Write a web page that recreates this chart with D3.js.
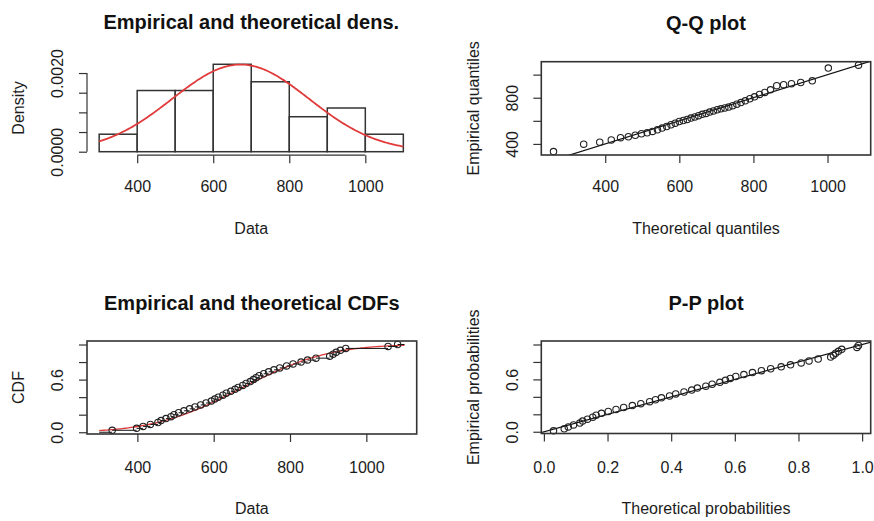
<!DOCTYPE html>
<html>
<head>
<meta charset="utf-8">
<script src="https://cdn.jsdelivr.net/npm/d3@7"></script>
<style>
  body { margin: 0; background: #fff; }
  svg text { font-family: "Liberation Sans", Arial, sans-serif; fill: #1c1c1c; }
</style>
</head>
<body>
<div id="chart"></div>
<script>
const dataValues = [334, 398,
  415, 434, 454, 462, 475, 488, 496,
  508, 522, 537, 551, 566, 580, 594,
  603, 612, 624, 633, 645, 656, 664, 676, 685, 696,
  704, 711, 719, 731, 744, 758, 773, 791,
  808, 829, 846, 868,
  904, 913, 921, 932, 946,
  1057, 1082];

// histogram breaks
const histBreaks = [300, 400, 500, 600, 700, 800, 900, 1000, 1100];

// fitted normal distribution
const fitMean = 672;
const fitSd = 180;

// ticks / labels (R drops the labels that would overlap)
const dataTicks = [400, 600, 800, 1000];
const dataTickLabels = ["400", "600", "800", "1000"];
const densTicks = [0, 0.0005, 0.001, 0.0015, 0.002];
const densTickLabels = ["0.0000", "", "", "", "0.0020"];
const qqTicksY = [400, 600, 800, 1000];
const qqTickLabelsY = ["400", "", "800", ""];
const probTicks = [0, 0.2, 0.4, 0.6, 0.8, 1];
const probTickLabelsY = ["0.0", "", "", "0.6", "", ""];
const probTickLabelsX = ["0.0", "0.2", "0.4", "0.6", "0.8", "1.0"];

const titles = ["Empirical and theoretical dens.", "Q-Q plot", "Empirical and theoretical CDFs", "P-P plot"];
const xLabels = ["Data", "Theoretical quantiles", "Data", "Theoretical probabilities"];
const yLabels = ["Density", "Empirical quantiles", "CDF", "Empirical probabilities"];

// plot regions
const W = 874, H = 521;
const panels = [
  {left: 87, right: 415.5, top: 60.8, bottom: 155.2, tickOff: 30.8, labOff: 72.8},
  {left: 541.3, right: 870.7, top: 61.7, bottom: 155, tickOff: 30.8, labOff: 72.8},
  {left: 87, right: 416.7, top: 341, bottom: 434, tickOff: 33.7, labOff: 74.5},
  {left: 541.3, right: 870.7, top: 341, bottom: 433.5, tickOff: 33.7, labOff: 74.5}
];
const red = "#e03a3a", ink = "#333";

// normal helpers
function dnorm(x) { const z = (x - fitMean) / fitSd; return Math.exp(-z * z / 2) / (fitSd * Math.sqrt(2 * Math.PI)); }
function pnormStd(z) {
  const t = 1 / (1 + 0.3275911 * Math.abs(z) / Math.SQRT2);
  const y = 1 - (((((1.061405429 * t - 1.453152027) * t) + 1.421413741) * t - 0.284496736) * t + 0.254829592) * t * Math.exp(-z * z / 2);
  return z >= 0 ? (1 + y) / 2 : (1 - y) / 2;
}
function pnorm(x) { return pnormStd((x - fitMean) / fitSd); }
function qnormStd(p) {
  const a = [-39.69683028665376, 220.9460984245205, -275.9285104469687, 138.3577518672690, -30.66479806614716, 2.506628277459239];
  const b = [-54.47609879822406, 161.5858368580409, -155.6989798598866, 66.80131188771972, -13.28068155288572];
  const c = [-0.007784894002430293, -0.3223964580411365, -2.400758277161838, -2.549732539343734, 4.374664141464968, 2.938163982698783];
  const d = [0.007784695709041462, 0.3224671290700398, 2.445134137142996, 3.754408661907416];
  const pl = 0.02425;
  let q, r;
  if (p < pl) {
    q = Math.sqrt(-2 * Math.log(p));
    return (((((c[0]*q+c[1])*q+c[2])*q+c[3])*q+c[4])*q+c[5]) / ((((d[0]*q+d[1])*q+d[2])*q+d[3])*q+1);
  } else if (p <= 1 - pl) {
    q = p - 0.5; r = q * q;
    return (((((a[0]*r+a[1])*r+a[2])*r+a[3])*r+a[4])*r+a[5])*q / (((((b[0]*r+b[1])*r+b[2])*r+b[3])*r+b[4])*r+1);
  }
  q = Math.sqrt(-2 * Math.log(1 - p));
  return -(((((c[0]*q+c[1])*q+c[2])*q+c[3])*q+c[4])*q+c[5]) / ((((d[0]*q+d[1])*q+d[2])*q+d[3])*q+1);
}
function qnorm(p) { return fitMean + fitSd * qnormStd(p); }

// R style 4% axis extension
function pad(ext) { const s = (ext[1] - ext[0]) * 0.04; return [ext[0] - s, ext[1] + s]; }

const svg = d3.select("#chart").append("svg")
  .attr("width", W).attr("height", H)
  .style("background", "#fff");

const sorted = dataValues.slice().sort(d3.ascending);
const n = sorted.length;
const xLo = histBreaks[0], xHi = histBreaks[histBreaks.length - 1];

function axisBottom(g, x, p, ticks, labels, span) {
  const ax = g.append("g").attr("transform", `translate(0,${p.bottom})`)
    .call(d3.axisBottom(x).tickValues(ticks).tickSize(8).tickFormat((d, i) => labels[i]));
  ax.select(".domain").remove();
  ax.selectAll(".tick line").attr("stroke", ink).attr("stroke-width", 1.2);
  ax.selectAll("text").attr("y", p.tickOff).attr("dy", "0.36em").attr("font-size", 16);
  if (span) ax.append("line").attr("x1", x(ticks[0])).attr("x2", x(ticks[ticks.length - 1]))
    .attr("stroke", ink).attr("stroke-width", 1.2);
}
function axisLeft(g, y, p, ticks, labels, span) {
  const ax = g.append("g").attr("transform", `translate(${p.left},0)`)
    .call(d3.axisLeft(y).tickValues(ticks).tickSize(8).tickFormat((d, i) => labels[i]));
  ax.select(".domain").remove();
  ax.selectAll(".tick line").attr("stroke", ink).attr("stroke-width", 1.2);
  ax.selectAll("text").attr("x", 0).attr("dy", "0.36em").attr("text-anchor", "middle")
    .attr("transform", "translate(-29.5,0) rotate(-90)").attr("font-size", 16);
  if (span) ax.append("line").attr("y1", y(ticks[0])).attr("y2", y(ticks[ticks.length - 1]))
    .attr("stroke", ink).attr("stroke-width", 1.2);
}
function frame(g, p, i, boxed) {
  if (boxed) g.append("rect").attr("x", p.left).attr("y", p.top)
    .attr("width", p.right - p.left).attr("height", p.bottom - p.top)
    .attr("fill", "none").attr("stroke", ink).attr("stroke-width", 1.6);
  const cx = (p.left + p.right) / 2, cy = (p.top + p.bottom) / 2;
  g.append("text").attr("x", cx).attr("y", p.top - 31.5).attr("text-anchor", "middle")
    .attr("font-size", 20).attr("font-weight", "bold").style("fill", "#111").text(titles[i]);
  g.append("text").attr("x", cx).attr("y", p.bottom + p.labOff).attr("dy", "0.36em")
    .attr("text-anchor", "middle").attr("font-size", 16).text(xLabels[i]);
  g.append("text").attr("transform", `translate(${p.left - 68.5},${cy}) rotate(-90)`)
    .attr("dy", "0.36em").attr("text-anchor", "middle").attr("font-size", 16).text(yLabels[i]);
}
function clipFor(id, p) {
  svg.append("clipPath").attr("id", id).append("rect")
    .attr("x", p.left).attr("y", p.top).attr("width", p.right - p.left).attr("height", p.bottom - p.top);
  return `url(#${id})`;
}
function circles(g, pts, x, y) {
  g.selectAll(null).data(pts).enter().append("circle")
    .attr("cx", d => x(d[0])).attr("cy", d => y(d[1])).attr("r", 3.2)
    .attr("fill", "none").attr("stroke", "#222").attr("stroke-width", 1.1);
}

// ---- 1. histogram + density ----
{
  const p = panels[0], g = svg.append("g");
  const bins = d3.bin().domain([xLo, xHi]).thresholds(histBreaks.slice(1, -1))(sorted);
  bins.forEach(b => b.dens = b.length / (n * (b.x1 - b.x0)));
  const curveX = d3.range(xLo, xHi + 1, 4);
  const ymax = Math.max(d3.max(bins, b => b.dens), d3.max(curveX, dnorm));
  const x = d3.scaleLinear().domain(pad([xLo, xHi])).range([p.left, p.right]);
  const y = d3.scaleLinear().domain(pad([0, ymax])).range([p.bottom, p.top]);

  g.selectAll(".bar").data(bins).enter().append("rect")
    .attr("x", b => x(b.x0)).attr("width", b => x(b.x1) - x(b.x0))
    .attr("y", b => y(b.dens)).attr("height", b => y(0) - y(b.dens))
    .attr("fill", "#fff").attr("stroke", ink).attr("stroke-width", 1.5);
  g.append("path").datum(curveX)
    .attr("d", d3.line().x(d => x(d)).y(d => y(dnorm(d))))
    .attr("fill", "none").attr("stroke", red).attr("stroke-width", 1.8);

  axisBottom(g, x, p, dataTicks, dataTickLabels, true);
  axisLeft(g, y, p, densTicks, densTickLabels, true);
  frame(g, p, 0, false);
}

// ---- 2. Q-Q plot ----
{
  const p = panels[1], g = svg.append("g");
  const theo = sorted.map((v, i) => qnorm((i + 0.5) / n));
  const pts = sorted.map((v, i) => [theo[i], v]);
  const x = d3.scaleLinear().domain(pad(d3.extent(theo))).range([p.left, p.right]);
  const y = d3.scaleLinear().domain(pad(d3.extent(sorted))).range([p.bottom, p.top]);
  const lo = Math.min(x.domain()[0], y.domain()[0]), hi = Math.max(x.domain()[1], y.domain()[1]);
  g.append("line").attr("clip-path", clipFor("clipQQ", p))
    .attr("x1", x(lo)).attr("y1", y(lo)).attr("x2", x(hi)).attr("y2", y(hi))
    .attr("stroke", "#111").attr("stroke-width", 1.2);
  circles(g, pts, x, y);
  axisBottom(g, x, p, dataTicks, dataTickLabels, false);
  axisLeft(g, y, p, qqTicksY, qqTickLabelsY, false);
  frame(g, p, 1, true);
}

// ---- 3. CDFs ----
{
  const p = panels[2], g = svg.append("g");
  const x = d3.scaleLinear().domain(pad([xLo, xHi])).range([p.left, p.right]);
  const y = d3.scaleLinear().domain([-0.02, 1.04]).range([p.bottom, p.top]);
  const clip = clipFor("clipCDF", p);
  const curveX = d3.range(xLo, xHi + 1, 4);
  g.append("path").datum(curveX).attr("clip-path", clip)
    .attr("d", d3.line().x(d => x(d)).y(d => y(pnorm(d))))
    .attr("fill", "none").attr("stroke", red).attr("stroke-width", 1.3);
  // ecdf steps, drawn over the data range
  const steps = d3.range(n + 1).map(i => [
    i === 0 ? xLo : sorted[i - 1],
    i === n ? xHi : sorted[i],
    i / n]);
  g.append("g").attr("clip-path", clip).selectAll("line").data(steps).enter().append("line")
    .attr("x1", d => x(d[0])).attr("x2", d => x(d[1]))
    .attr("y1", d => y(d[2])).attr("y2", d => y(d[2]))
    .attr("stroke", "#111").attr("stroke-width", 1);
  circles(g, sorted.map((v, i) => [v, (i + 1) / n]), x, y);
  axisBottom(g, x, p, dataTicks, dataTickLabels, false);
  axisLeft(g, y, p, probTicks, probTickLabelsY, false);
  frame(g, p, 2, true);
}

// ---- 4. P-P plot ----
{
  const p = panels[3], g = svg.append("g");
  const theoP = sorted.map(pnorm);
  const pts = sorted.map((v, i) => [theoP[i], (i + 0.5) / n]);
  const x = d3.scaleLinear().domain(pad(d3.extent(theoP))).range([p.left, p.right]);
  const y = d3.scaleLinear().domain([-0.02, 1.04]).range([p.bottom, p.top]);
  g.append("line").attr("clip-path", clipFor("clipPP", p))
    .attr("x1", x(-0.1)).attr("y1", y(-0.1)).attr("x2", x(1.1)).attr("y2", y(1.1))
    .attr("stroke", "#111").attr("stroke-width", 1.2);
  circles(g, pts, x, y);
  axisBottom(g, x, p, probTicks, probTickLabelsX, false);
  axisLeft(g, y, p, probTicks, probTickLabelsY, false);
  frame(g, p, 3, true);
}
</script>
</body>
</html>
